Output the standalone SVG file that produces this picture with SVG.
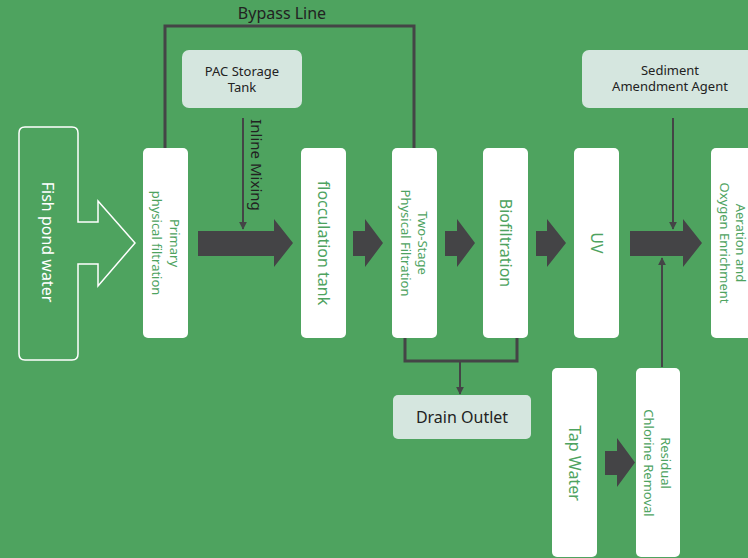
<svg xmlns="http://www.w3.org/2000/svg" width="748" height="558" viewBox="0 0 748 558">
<defs>
<marker id="ah" viewBox="0 0 10 10" refX="9" refY="5" markerWidth="5" markerHeight="5" orient="auto" markerUnits="userSpaceOnUse">
<path d="M0,0 L10,5 L0,10 Z" fill="#444446"/>
</marker>
<marker id="ah2" viewBox="0 0 10 10" refX="9" refY="5" markerWidth="8" markerHeight="8" orient="auto" markerUnits="userSpaceOnUse">
<path d="M0,0 L10,5 L0,10 Z" fill="#444446"/>
</marker>
</defs>
<style>
.box{fill:#ffffff;}
.lt{fill:#d5e6df;}
.gt{font-family:"Noto Sans","Liberation Sans",sans-serif;fill:#4ea35f;text-anchor:middle;dominant-baseline:central;}
.dt{font-family:"Noto Sans","Liberation Sans",sans-serif;fill:#222222;text-anchor:middle;dominant-baseline:central;}
.big{fill:#444446;}
.ln{fill:none;stroke:#444446;stroke-width:3;}
.thin{fill:none;stroke:#444446;stroke-width:2;}
</style>
<rect x="0" y="0" width="748" height="558" fill="#4ea35f"/>

<g id="connectors">
<polyline class="ln" points="165,148 165,26 414,26 414,148"/>
<polyline class="ln" points="405,338 405,361 517,361 517,338"/>
<line class="thin" x1="460" y1="361" x2="460" y2="394" marker-end="url(#ah2)"/>
<line class="thin" x1="243" y1="118" x2="243" y2="229" marker-end="url(#ah2)"/>
<line class="thin" x1="673" y1="118" x2="673" y2="229" marker-end="url(#ah2)"/>
<line class="thin" x1="662" y1="367" x2="662" y2="258" marker-end="url(#ah2)"/>
<polygon class="big" points="198,231 274,231 274,219 293,243 274,267 274,256 198,256"/>
<polygon class="big" points="353,231 365,231 365,219 383,243 365,267 365,256 353,256"/>
<polygon class="big" points="445,231 457,231 457,219 475,243 457,267 457,256 445,256"/>
<polygon class="big" points="536,231 547,231 547,219 566,243 547,267 547,256 536,256"/>
<polygon class="big" points="630,231 683,231 683,219 702,243 683,267 683,256 630,256"/>
<polygon class="big" points="605,451 617,451 617,438 635,462.5 617,487 617,475 605,475"/>
<text class="dt" x="282" y="13" font-size="16">Bypass Line</text>
<text class="dt" transform="translate(257,165) rotate(90)" font-size="15" fill="#111111">Inline Mixing</text>
</g>

<g id="fish-pond-water">
<path d="M25,127 L72,127 Q78,127 78,133 L78,222 L98,222 L98,201 L135,243 L98,286 L98,264 L78,264 L78,354 Q78,360 72,360 L25,360 Q19,360 19,354 L19,133 Q19,127 25,127 Z" fill="none" stroke="#ffffff" stroke-width="1.5"/>
<text class="gt" transform="translate(48,242) rotate(90)" font-size="16" fill="#ffffff" style="fill:#ffffff">Fish pond water</text>
</g>

<g id="primary-filtration">
<rect class="box" x="143" y="148" width="45" height="190" rx="5"/>
<text class="gt" transform="translate(166,243) rotate(90)" font-size="13"><tspan x="0" y="-9">Primary</tspan><tspan x="0" y="9">physical filtration</tspan></text>
</g>

<g id="pac-storage">
<rect class="lt" x="182" y="50" width="120" height="58" rx="7"/>
<text class="dt" x="242" y="79" font-size="13"><tspan x="242" y="71">PAC Storage</tspan><tspan x="242" y="87">Tank</tspan></text>
</g>

<g id="flocculation">
<rect class="box" x="301" y="148" width="45" height="190" rx="5"/>
<text class="gt" transform="translate(323.5,243) rotate(90)" font-size="16">flocculation tank</text>
</g>

<g id="two-stage">
<rect class="box" x="392" y="148" width="45" height="190" rx="5"/>
<text class="gt" transform="translate(414.5,243) rotate(90)" font-size="13"><tspan x="0" y="-8.5">Two-Stage</tspan><tspan x="0" y="8.5">Physical Filtration</tspan></text>
</g>

<g id="biofiltration">
<rect class="box" x="483" y="148" width="45" height="190" rx="5"/>
<text class="gt" transform="translate(505.5,243) rotate(90)" font-size="16">Biofiltration</text>
</g>

<g id="uv">
<rect class="box" x="574" y="148" width="45" height="190" rx="5"/>
<text class="gt" transform="translate(596.5,243) rotate(90)" font-size="16">UV</text>
</g>

<g id="aeration">
<rect class="box" x="711" y="148" width="45" height="190" rx="5"/>
<text class="gt" transform="translate(733,243) rotate(90)" font-size="13"><tspan x="0" y="-8">Aeration and</tspan><tspan x="0" y="8">Oxygen Enrichment</tspan></text>
</g>

<g id="sediment-agent">
<rect class="lt" x="582" y="50" width="176" height="58" rx="7"/>
<text class="dt" font-size="13"><tspan x="670" y="70">Sediment</tspan><tspan x="670" y="86">Amendment Agent</tspan></text>
</g>

<g id="drain-outlet">
<rect class="lt" x="393" y="395" width="138" height="44" rx="5"/>
<text class="dt" x="462" y="417" font-size="16">Drain Outlet</text>
</g>

<g id="tap-water">
<rect class="box" x="552" y="368" width="45" height="189" rx="5"/>
<text class="gt" transform="translate(574.5,463) rotate(90)" font-size="16">Tap Water</text>
</g>

<g id="residual-chlorine">
<rect class="box" x="636" y="368" width="44" height="189" rx="5"/>
<text class="gt" transform="translate(657,463) rotate(90)" font-size="13"><tspan x="0" y="-8.5">Residual</tspan><tspan x="0" y="8.5">Chlorine Removal</tspan></text>
</g>
</svg>
